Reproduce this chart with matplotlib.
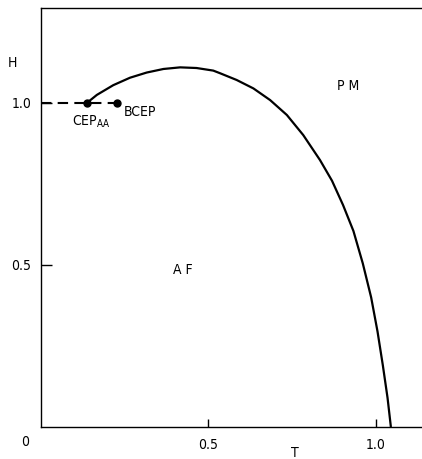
import matplotlib
matplotlib.use("Agg")
import matplotlib.pyplot as plt

plt.rcParams['font.family'] = ['DejaVu Sans']
plt.rcParams['font.stretch'] = 'condensed'

# phase boundary AF / PM
T_line = [0.137, 0.167, 0.216, 0.266, 0.316, 0.366, 0.416, 0.465, 0.515, 0.535, 0.585,
          0.635, 0.685, 0.735, 0.784, 0.834, 0.870, 0.903, 0.934, 0.962, 0.987, 1.006,
          1.022, 1.036, 1.046]
H_line = [1.000, 1.025, 1.055, 1.078, 1.094, 1.105, 1.110, 1.108, 1.100, 1.092, 1.071,
          1.045, 1.009, 0.963, 0.901, 0.824, 0.760, 0.685, 0.605, 0.505, 0.400, 0.295,
          0.190, 0.090, 0.000]

# dashed first-order line and the two critical end points
T_dash = [0.0, 0.226]
H_dash = [1.0, 1.0]
T_pts = [0.137, 0.226]
H_pts = [1.0, 1.0]

x_ticks = [0.5, 1.0]
x_ticklabels = ["0.5", "1.0"]
y_ticks = [0.5, 1.0]
y_ticklabels = ["0.5", "1.0"]

fig = plt.figure(figsize=(4.22, 4.59), dpi=100)
ax = fig.add_axes([41/422, 32/459, 381/422, 419/459])

ax.plot(T_line, H_line, color='black', lw=1.6, solid_capstyle='butt', solid_joinstyle='round')
ax.plot(T_dash, H_dash, color='black', lw=1.5, dashes=(5, 3))
ax.plot(T_pts, H_pts, 'o', color='black', ms=5)

ax.set_xlim(0, 381/334.5)
ax.set_ylim(0, 419/324)

ax.spines['right'].set_visible(False)
for s in ['left', 'top', 'bottom']:
    ax.spines[s].set_linewidth(1.0)

ax.set_xticks(x_ticks)
ax.set_xticklabels(x_ticklabels)
ax.set_yticks(y_ticks)
ax.set_yticklabels(y_ticklabels)
ax.tick_params(axis='x', direction='in', length=6, width=1, pad=8, labelsize=10)
ax.tick_params(axis='y', direction='in', length=8, width=1, pad=7, labelsize=10)

# corner zero and axis letters
fig.text(25/422, 1 - 442/459, "0", ha='center', va='center', fontsize=10)
fig.text(295/422, 1 - 453/459, "T", ha='center', va='center', fontsize=10)
fig.text(12/422, 1 - 63/459, "H", ha='center', va='center', fontsize=10)

ax.text(0.918, 1.052, "P M", ha='center', va='center', fontsize=10)
ax.text(0.425, 0.485, "A F", ha='center', va='center', fontsize=10)
ax.text(0.149, 0.943, r"CEP$_{\mathregular{AA}}$", ha='center', va='center', fontsize=10)
ax.text(0.295, 0.973, "BCEP", ha='center', va='center', fontsize=10)

fig.savefig("out.png", dpi=100)
